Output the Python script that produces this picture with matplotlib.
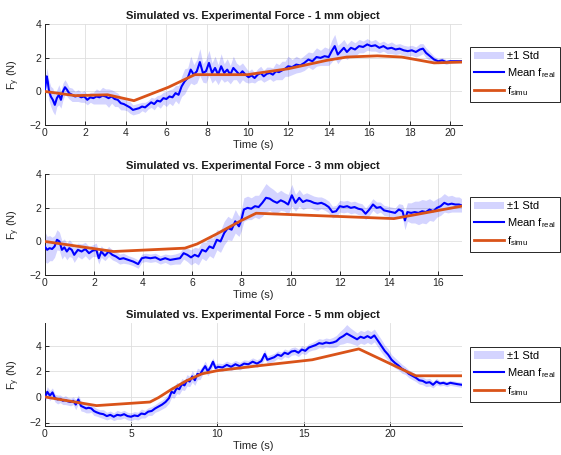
import numpy as np
import matplotlib
matplotlib.use("Agg")
import matplotlib.pyplot as plt
from matplotlib.patches import Patch
from matplotlib.lines import Line2D

plt.rcParams['font.family'] = ['Liberation Sans', 'DejaVu Sans']
plt.rcParams['mathtext.fontset'] = 'custom'
plt.rcParams['mathtext.rm'] = 'Liberation Sans'

# ---------------- data: 1 mm object ----------------
t1 = [0.0,0.1,0.15,0.2,0.3,0.4,0.5,0.6,0.7,0.8,
      0.9,1.0,1.1,1.2,1.35,1.5,1.65,1.8,1.95,2.1,
      2.25,2.4,2.55,2.7,2.85,3.0,3.15,3.3,3.45,3.6,
      3.75,3.9,4.05,4.2,4.35,4.5,4.65,4.8,4.95,5.1,
      5.25,5.4,5.55,5.7,5.85,6.0,6.15,6.3,6.45,6.6,
      6.75,6.9,7.05,7.2,7.35,7.5,7.65,7.8,7.95,8.1,
      8.25,8.4,8.55,8.7,8.85,9.0,9.15,9.3,9.45,9.6,
      9.75,9.9,10.05,10.2,10.35,10.5,10.65,10.8,10.95,11.1,
      11.25,11.4,11.55,11.7,11.85,12.0,12.2,12.4,12.6,12.8,
      13.0,13.2,13.4,13.6,13.8,14.0,14.15,14.3,14.45,14.6,
      14.75,14.9,15.1,15.3,15.5,15.7,15.9,16.1,16.3,16.5,
      16.7,16.9,17.1,17.3,17.5,17.7,17.9,18.1,18.3,18.5,
      18.65,18.8,19.0,19.2,19.4,19.6,19.8,20.0,20.2,20.55]
mean1 = [0.0,0.9,0.6,0.1,-0.3,-0.5,-0.8,-0.4,-0.2,-0.5,
         0.0,0.25,0.1,-0.1,-0.2,-0.3,-0.25,-0.35,-0.3,-0.5,
         -0.35,-0.4,-0.3,-0.35,-0.25,-0.3,-0.4,-0.3,-0.45,-0.5,
         -0.7,-0.75,-0.85,-0.95,-1.1,-1.05,-1.0,-0.9,-0.95,-0.8,
         -0.65,-0.75,-0.55,-0.6,-0.4,-0.45,-0.3,-0.35,-0.1,-0.2,
         0.3,0.6,0.8,1.3,1.0,1.2,1.75,1.1,1.2,1.7,
         1.1,1.4,1.0,1.5,1.1,1.3,1.0,1.4,1.2,1.0,
         1.2,1.0,0.85,0.95,0.8,1.0,1.1,0.9,1.05,1.1,
         1.0,1.2,1.15,1.25,1.35,1.5,1.45,1.6,1.55,1.7,
         1.9,1.8,2.05,2.0,2.1,2.05,2.4,2.7,2.2,2.4,
         2.6,2.35,2.6,2.5,2.7,2.65,2.8,2.7,2.75,2.6,
         2.7,2.55,2.6,2.5,2.55,2.45,2.4,2.45,2.35,2.5,
         2.55,2.3,2.1,1.9,1.8,1.85,1.75,1.8,1.8,1.8]
std1 = [0.2,0.5,0.5,0.6,0.6,0.7,0.6,0.5,0.6,0.5,
        0.5,0.45,0.4,0.35,0.4,0.3,0.35,0.3,0.35,0.3,
        0.3,0.35,0.45,0.4,0.5,0.45,0.55,0.4,0.45,0.4,
        0.4,0.35,0.3,0.35,0.3,0.3,0.3,0.25,0.3,0.25,
        0.3,0.35,0.3,0.4,0.35,0.45,0.4,0.5,0.45,0.55,
        0.6,0.75,0.6,0.8,0.6,0.7,0.8,0.55,0.7,0.75,
        0.6,0.7,0.6,0.75,0.55,0.65,0.55,0.7,0.5,0.55,
        0.5,0.45,0.35,0.4,0.3,0.35,0.4,0.35,0.4,0.35,
        0.4,0.5,0.45,0.55,0.45,0.6,0.45,0.5,0.4,0.45,
        0.45,0.5,0.55,0.45,0.55,0.5,0.65,0.7,0.55,0.5,
        0.5,0.45,0.45,0.4,0.4,0.35,0.35,0.3,0.35,0.3,
        0.3,0.3,0.35,0.3,0.3,0.3,0.3,0.3,0.3,0.35,
        0.3,0.3,0.25,0.2,0.15,0.15,0.15,0.1,0.1,0.1]
simu_t1 = [0, 1.5, 3.1, 4.4, 6.1, 7.4, 10, 12, 13.9, 14.9, 16.4, 17.6, 19.2, 20.55]
simu_y1 = [0, -0.25, -0.2, -0.55, 0.25, 1.0, 1.0, 1.35, 1.85, 2.05, 2.12, 2.05, 1.7, 1.75]

# ---------------- data: 3 mm object ----------------
t2 = [0.0,0.1,0.2,0.3,0.4,0.5,0.6,0.7,0.8,0.9,
      1.0,1.1,1.2,1.35,1.5,1.65,1.8,1.95,2.1,2.2,
      2.3,2.45,2.6,2.75,2.9,3.05,3.2,3.4,3.6,3.8,
      3.95,4.1,4.3,4.5,4.7,4.9,5.1,5.3,5.5,5.65,
      5.8,5.95,6.1,6.25,6.4,6.55,6.7,6.85,7.0,7.15,
      7.3,7.45,7.6,7.75,7.9,8.0,8.1,8.25,8.4,8.55,
      8.7,8.85,9.0,9.15,9.3,9.45,9.6,9.75,9.9,10.05,
      10.2,10.35,10.5,10.65,10.8,10.95,11.1,11.25,11.4,11.55,
      11.7,11.85,12.0,12.15,12.3,12.45,12.6,12.75,12.9,13.05,
      13.2,13.35,13.5,13.65,13.8,13.95,14.1,14.25,14.4,14.55,
      14.65,14.75,14.9,15.05,15.2,15.35,15.5,15.65,15.8,15.95,
      16.1,16.25,16.4,16.55,16.7,16.85,16.95]
mean2 = [-0.3,-0.5,-0.4,-0.45,-0.3,0.1,0.0,-0.5,-0.35,-0.6,
         -0.4,-0.5,-0.8,-0.5,-0.6,-0.45,-0.7,-0.55,-0.5,-1.0,
         -0.6,-0.85,-0.6,-0.8,-0.9,-1.05,-1.0,-1.1,-1.2,-1.35,
         -1.0,-0.95,-1.0,-0.95,-1.1,-1.0,-1.1,-1.05,-1.0,-0.7,
         -0.8,-0.95,-0.8,-0.9,-0.5,-0.6,-0.3,-0.4,0.1,0.0,
         0.5,0.8,0.7,1.2,0.9,1.3,1.9,2.0,1.95,2.1,
         2.05,2.3,2.6,2.55,2.4,2.3,2.45,2.35,2.2,2.75,
         2.3,2.6,2.35,2.45,2.4,2.3,2.25,2.3,2.2,2.05,
         1.75,1.8,2.1,2.05,2.1,2.0,2.05,1.95,1.9,1.65,
         1.9,2.2,2.0,2.05,1.85,1.8,1.75,1.7,1.9,1.8,
         1.25,1.75,1.7,1.75,1.7,1.8,1.75,1.9,1.8,2.0,
         2.1,2.3,2.2,2.25,2.2,2.2,2.15]
std2 = [0.9,0.8,0.75,0.7,0.65,0.6,0.55,0.55,0.5,0.5,
        0.5,0.45,0.45,0.4,0.45,0.4,0.4,0.35,0.4,0.35,
        0.35,0.3,0.3,0.3,0.3,0.3,0.3,0.25,0.25,0.25,
        0.25,0.25,0.25,0.25,0.25,0.25,0.3,0.3,0.35,0.35,
        0.4,0.45,0.45,0.5,0.5,0.55,0.55,0.6,0.6,0.65,
        0.7,0.7,0.65,0.7,0.6,0.65,0.7,0.7,0.65,0.65,
        0.7,0.8,0.85,0.7,0.7,0.6,0.6,0.55,0.6,0.65,
        0.5,0.5,0.45,0.45,0.4,0.4,0.4,0.35,0.35,0.35,
        0.35,0.35,0.35,0.35,0.35,0.35,0.35,0.35,0.35,0.35,
        0.35,0.35,0.35,0.3,0.3,0.3,0.3,0.3,0.35,0.4,
        0.55,0.55,0.6,0.65,0.7,0.7,0.7,0.65,0.6,0.55,
        0.55,0.55,0.5,0.5,0.45,0.45,0.4]
simu_t2 = [0, 2.8, 5.7, 6.2, 7.0, 8.0, 8.6, 14.2, 16.95]
simu_y2 = [0, -0.6, -0.4, -0.15, 0.45, 1.25, 1.68, 1.36, 2.1]

# ---------------- data: 5 mm object ----------------
t3 = [0.0,0.15,0.3,0.45,0.6,0.75,0.9,1.05,1.2,1.35,
      1.5,1.65,1.8,1.95,2.1,2.25,2.4,2.55,2.7,2.85,
      3.0,3.2,3.4,3.6,3.8,4.0,4.2,4.4,4.6,4.8,
      5.0,5.2,5.4,5.6,5.8,6.0,6.2,6.4,6.6,6.8,
      7.0,7.2,7.35,7.5,7.65,7.8,7.95,8.1,8.25,8.4,
      8.55,8.7,8.85,9.0,9.15,9.3,9.45,9.6,9.75,9.9,
      10.05,10.3,10.55,10.8,11.05,11.3,11.55,11.8,12.05,12.3,
      12.55,12.75,12.9,13.1,13.3,13.5,13.7,13.9,14.1,14.3,
      14.5,14.7,14.9,15.1,15.3,15.5,15.7,15.9,16.1,16.3,
      16.5,16.7,16.9,17.1,17.3,17.5,17.7,17.9,18.1,18.3,
      18.5,18.7,18.9,19.1,19.3,19.5,19.7,19.9,20.1,20.3,
      20.5,20.7,20.9,21.1,21.3,21.5,21.7,21.9,22.1,22.3,
      22.5,22.7,22.9,23.1,23.3,23.5,23.7,23.9,24.15]
mean3 = [-0.1,0.4,0.1,0.35,-0.1,-0.2,-0.15,-0.3,-0.25,-0.35,
         -0.4,-0.3,-0.6,-0.2,-0.7,-0.8,-0.9,-0.85,-0.9,-1.1,
         -1.2,-1.3,-1.35,-1.5,-1.4,-1.55,-1.4,-1.45,-1.35,-1.5,
         -1.55,-1.45,-1.5,-1.3,-1.35,-1.15,-1.1,-0.9,-0.75,-0.6,
         -0.4,-0.1,0.4,0.3,0.7,0.6,1.0,0.9,1.3,1.2,
         1.6,1.3,1.8,1.75,2.1,2.4,2.0,2.3,2.75,2.25,
         2.35,2.3,2.5,2.35,2.55,2.4,2.6,2.55,2.75,2.6,
         2.8,3.35,2.9,3.0,3.1,3.3,3.2,3.45,3.35,3.55,
         3.6,3.45,3.7,3.6,3.85,3.95,4.05,4.2,4.15,4.25,
         4.2,4.25,4.35,4.6,4.75,4.95,4.8,4.65,4.5,4.7,
         4.6,4.75,4.6,4.8,4.4,4.0,3.6,3.3,2.9,2.65,
         2.45,2.2,2.05,1.8,1.65,1.5,1.3,1.25,1.1,1.15,
         0.95,1.2,1.05,1.1,1.0,1.1,1.05,1.0,0.95]
std3 = [0.3,0.4,0.4,0.35,0.3,0.35,0.3,0.3,0.35,0.3,
        0.3,0.3,0.4,0.35,0.4,0.35,0.35,0.4,0.3,0.35,
        0.3,0.3,0.35,0.3,0.3,0.3,0.35,0.3,0.3,0.3,
        0.3,0.3,0.3,0.35,0.3,0.3,0.35,0.3,0.35,0.35,
        0.4,0.4,0.45,0.4,0.45,0.4,0.45,0.4,0.45,0.4,
        0.45,0.4,0.45,0.4,0.35,0.4,0.35,0.35,0.3,0.3,
        0.3,0.3,0.3,0.3,0.3,0.3,0.3,0.3,0.3,0.3,
        0.3,0.35,0.3,0.3,0.3,0.3,0.3,0.3,0.3,0.3,
        0.3,0.3,0.3,0.3,0.3,0.3,0.35,0.35,0.35,0.35,
        0.35,0.4,0.45,0.5,0.6,0.7,0.6,0.55,0.5,0.5,
        0.5,0.5,0.5,0.5,0.5,0.5,0.45,0.45,0.4,0.4,
        0.35,0.35,0.3,0.3,0.3,0.3,0.3,0.3,0.3,0.3,
        0.25,0.25,0.2,0.2,0.2,0.2,0.2,0.2,0.2]
simu_t3 = [0, 3.0, 6.1, 6.6, 7.3, 8.2, 9.1, 10.0, 12.5, 15.5, 18.2, 21.5, 24.15]
simu_y3 = [0, -0.68, -0.4, -0.05, 0.55, 1.25, 1.8, 2.05, 2.45, 2.9, 3.75, 1.65, 1.65]

titles = ["Simulated vs. Experimental Force - 1 mm object",
          "Simulated vs. Experimental Force - 3 mm object",
          "Simulated vs. Experimental Force - 5 mm object"]
xlims = [(0, 20.55), (0, 16.95), (0, 24.15)]
ylims = [(-2, 4), (-2, 4), (-2.25, 5.75)]
xticks = [[0, 2, 4, 6, 8, 10, 12, 14, 16, 18, 20],
          [0, 2, 4, 6, 8, 10, 12, 14, 16],
          [0, 5, 10, 15, 20]]
yticks = [[-2, 0, 2, 4], [-2, 0, 2, 4], [-2, 0, 2, 4]]

datasets = [(t1, mean1, std1, simu_t1, simu_y1),
            (t2, mean2, std2, simu_t2, simu_y2),
            (t3, mean3, std3, simu_t3, simu_y3)]

W, H = 561, 455
fig = plt.figure(figsize=(W / 100, H / 100), dpi=100)

# axes boxes in pixels: (left, top, right, bottom)
boxes = [(44.7, 24.3, 461.5, 125.0),
         (44.7, 174.3, 461.5, 275.0),
         (44.7, 323.3, 461.5, 425.7)]

BAND = (0, 0, 1, 0.17)
BLUE = (0, 0, 1)
ORANGE = (0.85, 0.325, 0.098)
DARK = '#262626'

for i, (l, t, r, b) in enumerate(boxes):
    ax = fig.add_axes([l / W, 1 - b / H, (r - l) / W, (b - t) / H])
    tt, mm, ss, st, sy = datasets[i]
    tt = np.array(tt); mm = np.array(mm); ss = np.array(ss)
    ax.fill_between(tt, mm - ss, mm + ss, color=BAND, linewidth=0, zorder=2)
    ax.plot(tt, mm, color=BLUE, lw=1.5, zorder=3)
    ax.plot(st, sy, color=ORANGE, lw=2.0, zorder=4)
    ax.set_xlim(*xlims[i]); ax.set_ylim(*ylims[i])
    ax.set_xticks(xticks[i]); ax.set_yticks(yticks[i])
    ax.grid(True, color='#dedede', lw=0.6, zorder=0)
    ax.set_axisbelow(True)
    for sp in ['top', 'right']:
        ax.spines[sp].set_visible(False)
    for sp in ['left', 'bottom']:
        ax.spines[sp].set_color(DARK); ax.spines[sp].set_linewidth(0.7)
    ax.tick_params(direction='in', length=3, width=0.7, color=DARK,
                   labelcolor=DARK, labelsize=7.5, pad=2.5)
    ax.set_title(titles[i], fontsize=8, fontweight='bold', color='#1a1a1a', pad=4)
    ax.set_xlabel('Time (s)', fontsize=8, color=DARK, labelpad=1)
    ax.set_ylabel(r'$\mathregular{F_y}$ (N)', fontsize=8, color=DARK, labelpad=5)

    handles = [Patch(facecolor=BAND, edgecolor='none'),
               Line2D([], [], color=BLUE, lw=1.5),
               Line2D([], [], color=ORANGE, lw=2.0)]
    labels = ['±1 Std', r'Mean $\mathregular{f_{real}}$', r'$\mathregular{f_{simu}}$']
    cy = 1 - (t + b) / 2 / H
    leg = fig.legend(handles, labels, loc='center left',
                     bbox_to_anchor=(470 / W, cy), bbox_transform=fig.transFigure,
                     borderaxespad=0, fontsize=8, frameon=True, fancybox=False,
                     edgecolor=DARK, framealpha=1, handlelength=2.7,
                     handletextpad=0.2, borderpad=0.4, labelspacing=0.4)
    leg.get_frame().set_linewidth(0.7)

fig.savefig('out.png', dpi=100)
